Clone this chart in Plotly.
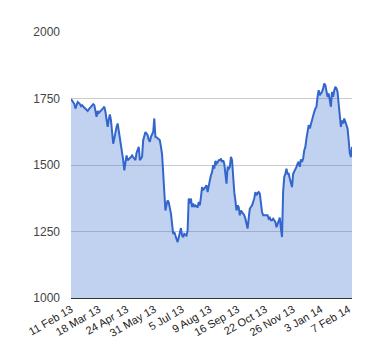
import plotly.graph_objects as go

# Daily closing values (one per trading day)
values = [
    1748, 1742, 1737, 1730, 1712, 1729, 1737, 1733, 1729, 1721,
    1725, 1720, 1716, 1712, 1706, 1703, 1709, 1714, 1719, 1726,
    1729, 1725, 1700, 1681, 1703, 1696, 1700, 1703, 1709, 1714,
    1719, 1700, 1662, 1643, 1670, 1690, 1668, 1620, 1580, 1600,
    1630, 1643, 1656, 1630, 1600, 1568, 1555, 1518, 1480, 1505,
    1536, 1518, 1522, 1524, 1530, 1536, 1531, 1525, 1518, 1545,
    1560, 1568, 1518, 1525, 1531, 1593, 1610, 1624, 1618, 1612,
    1595, 1587, 1606, 1615, 1624, 1675, 1606, 1604, 1600, 1597,
    1593, 1568, 1540, 1470, 1380, 1329, 1350, 1367, 1360, 1340,
    1317, 1279, 1241, 1248, 1238, 1222, 1210, 1229, 1235, 1263,
    1235, 1229, 1241, 1238, 1235, 1254, 1374, 1355, 1374, 1342,
    1355, 1342, 1348, 1345, 1340, 1361, 1348, 1380, 1417, 1405,
    1410, 1417, 1424, 1398, 1430, 1442, 1461, 1473, 1499, 1486,
    1515, 1505, 1510, 1518, 1518, 1524, 1512, 1518, 1505, 1470,
    1430, 1493, 1486, 1493, 1531, 1518, 1450, 1398, 1367, 1329,
    1348, 1342, 1311, 1329, 1323, 1318, 1311, 1298, 1273, 1261,
    1300, 1336, 1342, 1348, 1361, 1374, 1398, 1386, 1394, 1398,
    1392, 1355, 1323, 1311, 1311, 1311, 1311, 1311, 1298, 1302,
    1292, 1292, 1298, 1290, 1286, 1266, 1279, 1292, 1302, 1260,
    1229, 1400, 1455, 1467, 1486, 1467, 1467, 1449, 1430, 1417,
    1467, 1475, 1488, 1493, 1505, 1512, 1493, 1521, 1512, 1524,
    1555, 1568, 1600, 1624, 1650, 1637, 1656, 1670, 1681, 1700,
    1712, 1719, 1756, 1781, 1762, 1769, 1775, 1788, 1806, 1800,
    1775, 1756, 1769, 1750, 1719, 1775, 1756, 1780, 1794, 1788,
    1775, 1730, 1694, 1643, 1668, 1656, 1675, 1660, 1650, 1637,
    1593, 1545, 1530, 1568,
]
day_index = list(range(len(values)))

# Tick labels every 25 trading days
tick_index = [0, 25, 50, 75, 100, 125, 150, 175, 200, 225, 250]
tick_labels = ["11 Feb 13", "18 Mar 13", "24 Apr 13", "31 May 13", "5 Jul 13",
               "9 Aug 13", "16 Sep 13", "22 Oct 13", "26 Nov 13", "3 Jan 14",
               "7 Feb 14"]
y_ticks = [1000, 1250, 1500, 1750, 2000]

fig = go.Figure()
fig.add_trace(go.Scatter(
    x=day_index, y=values, mode="lines",
    line=dict(color="#3366cc", width=2),
    fill="tozeroy", fillcolor="rgba(51,102,204,0.3)",
    hoverinfo="skip", showlegend=False,
))

fig.update_layout(
    width=380, height=360,
    margin=dict(l=63, r=36, t=24, b=70),
    paper_bgcolor="white", plot_bgcolor="white",
    font=dict(family="Liberation Sans, Arial, sans-serif", size=11, color="#222"),
)
fig.update_xaxes(
    range=[0, len(values) - 1],
    tickvals=tick_index, ticktext=tick_labels, tickangle=-30,
    showgrid=False, zeroline=False,
    showline=True, linecolor="#333", linewidth=1,
    ticks="", tickfont=dict(size=11, color="#222"),
)
fig.update_yaxes(
    range=[1000, 2000], tickvals=y_ticks,
    showgrid=True, gridcolor="#cccccc", gridwidth=1,
    zeroline=False, ticks="", ticklabelstandoff=10,
    tickfont=dict(size=12, color="#444"),
)

fig.write_html("out.html")
